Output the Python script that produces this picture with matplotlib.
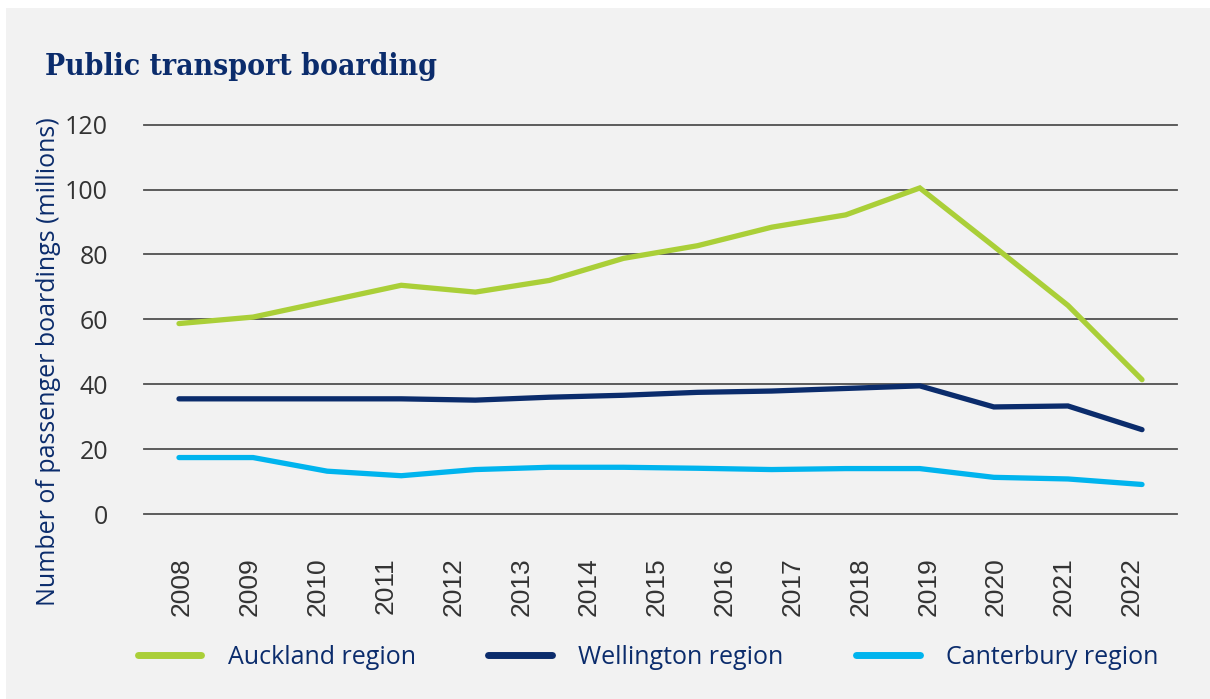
import numpy as np
import matplotlib
matplotlib.use("Agg")
import matplotlib.pyplot as plt
from matplotlib.patches import Rectangle

# ---- data ----
years = ["2008", "2009", "2010", "2011", "2012", "2013", "2014", "2015",
         "2016", "2017", "2018", "2019", "2020", "2021", "2022"]
# the source chart plots 14 points per series across the 15 year labels
auckland = [58.7, 60.7, 65.6, 70.5, 68.4, 72.0, 78.8, 82.7, 88.4, 92.2, 100.5, 82.5, 64.3, 41.4]
wellington = [35.5, 35.5, 35.5, 35.5, 35.1, 36.0, 36.6, 37.5, 37.9, 38.7, 39.5, 33.0, 33.3, 26.0]
canterbury = [17.4, 17.4, 13.2, 11.8, 13.7, 14.4, 14.4, 14.1, 13.7, 14.0, 14.0, 11.3, 10.8, 9.1]
series_names = ["Auckland region", "Wellington region", "Canterbury region"]
yticks = [0, 20, 40, 60, 80, 100, 120]

GREEN = "#aacf38"
NAVY = "#0b2c6c"
CYAN = "#00b4ee"
BG = "#f2f2f2"
TXT = "#333333"

W, H = 1210, 699
fig = plt.figure(figsize=(W / 100, H / 100), dpi=100, facecolor="white")
fig.patches.append(Rectangle((6 / W, 0), 1 - 6 / W, 1 - 8 / H, transform=fig.transFigure,
                             facecolor=BG, edgecolor="none", zorder=-10))

left, right = 144 / W, 1177 / W
top, bottom = 1 - 124.7 / H, 1 - 514 / H
ax = fig.add_axes([left, bottom, right - left, top - bottom])
ax.set_facecolor(BG)
ax.patch.set_alpha(0)

x = np.arange(len(auckland))
lw = 3.8
for vals, col, name in zip([auckland, wellington, canterbury], [GREEN, NAVY, CYAN], series_names):
    ax.plot(x, vals, color=col, lw=lw, solid_capstyle="round", solid_joinstyle="miter",
            label=name, zorder=3)

px = 74.1  # pixels per point step
ax.set_xlim(-(179 - 144) / px, (len(x) - 1) + (1177 - 1142) / px)
ax.set_ylim(0, 120)

ax.set_yticks(yticks)
ax.set_yticklabels([str(v) for v in yticks], fontsize=18, color=TXT, family="Open Sans")
ax.tick_params(axis="y", length=0, pad=26)
ax.set_xticks(np.linspace(0.04, 12.86, len(years)))
ax.set_xticklabels(years, rotation=90, fontsize=19, color=TXT, family="Liberation Sans")
ax.tick_params(axis="x", length=0, pad=31)

for v in yticks:
    ax.axhline(v, color="#505050", lw=1.3, zorder=1, clip_on=False)
for s in ax.spines.values():
    s.set_visible(False)

fig.text(36 / W, 1 - 362 / H, "Number of passenger boardings (millions)", rotation=90,
         ha="left", va="center", fontsize=18, color=NAVY, family="Open Sans")

fig.text(45 / W, 1 - 75 / H, "Public transport boarding", ha="left", va="baseline",
         fontsize=21.5, fontweight="bold", color=NAVY, family="DejaVu Serif",
         fontstretch="condensed")

handles, labels = ax.get_legend_handles_labels()
leg = fig.legend(handles, labels, loc="center", bbox_to_anchor=(648 / W, 1 - 657 / H),
                 ncol=3, frameon=False, handlelength=2.55, handletextpad=1.05,
                 columnspacing=2.9, prop={"family": "Open Sans", "size": 18})
for t in leg.get_texts():
    t.set_color(NAVY)
for h in leg.legend_handles:
    h.set_linewidth(5)

fig.savefig("out.png", dpi=100, facecolor="white")
